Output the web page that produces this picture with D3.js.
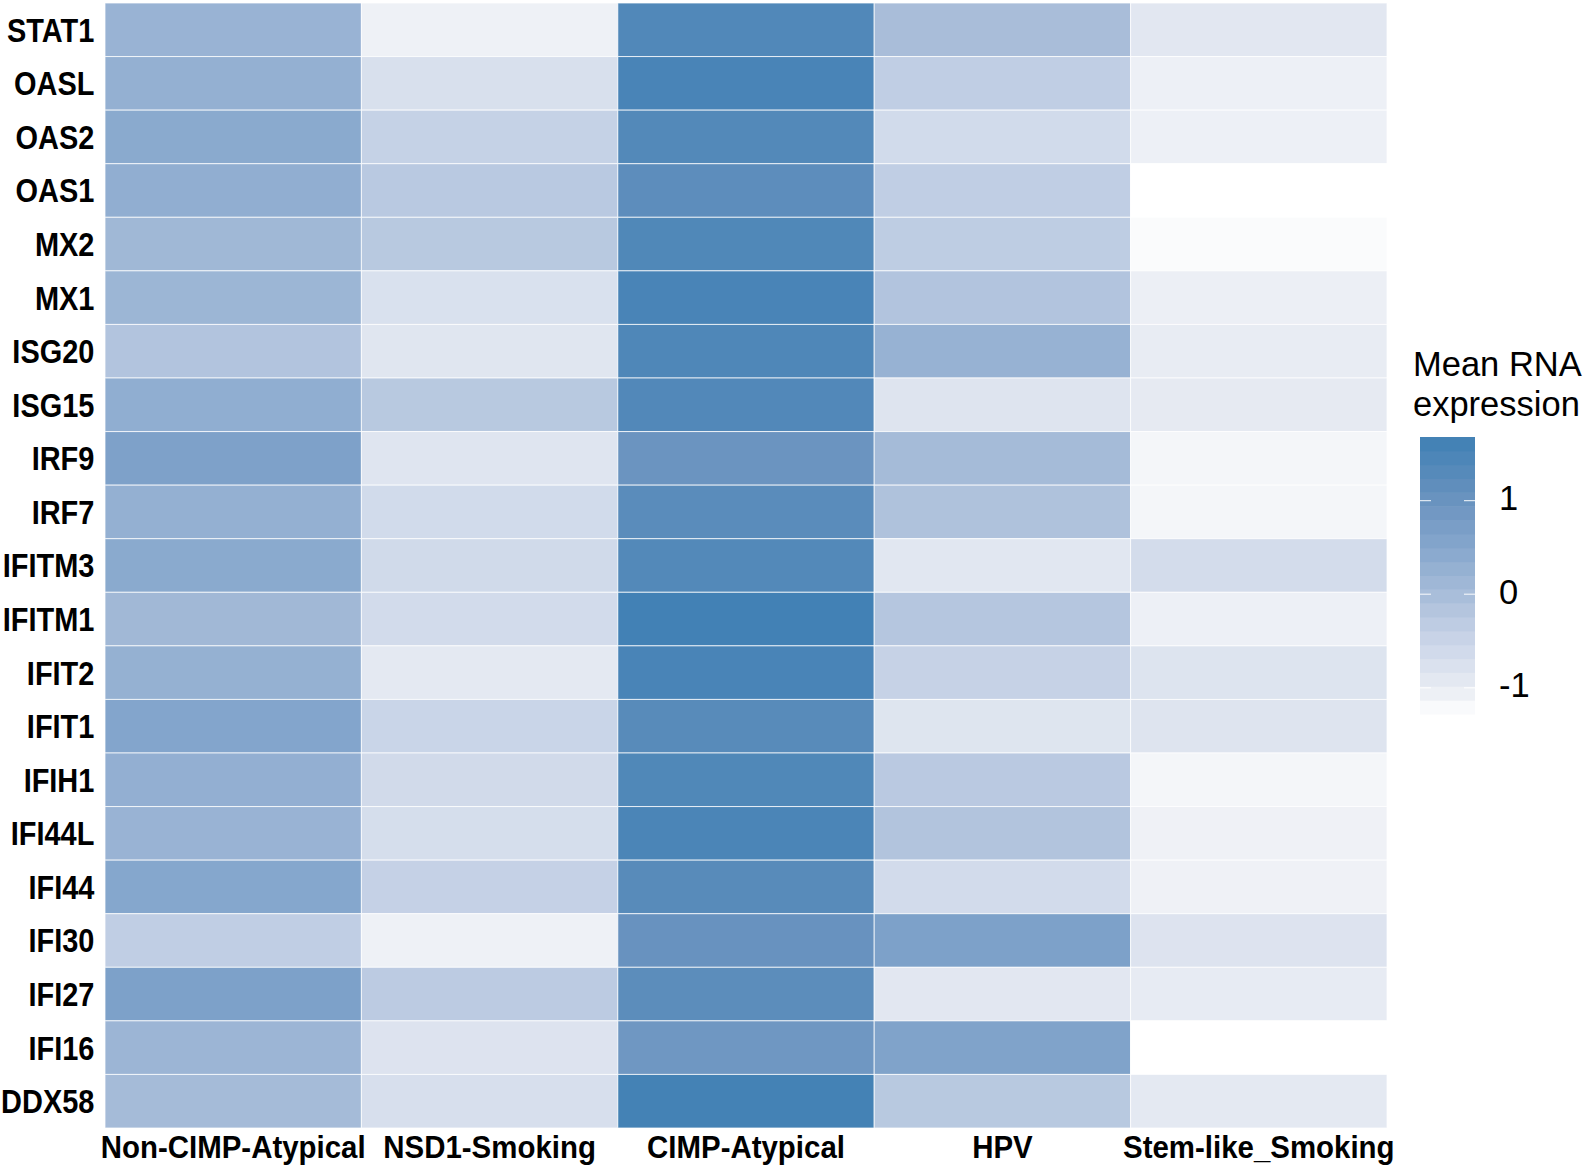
<!DOCTYPE html>
<html>
<head>
<meta charset="utf-8">
<script src="https://cdn.jsdelivr.net/npm/d3@7"></script>
<style>
  html, body { margin: 0; padding: 0; background: #ffffff; }
  svg { display: block; }
  text { font-family: "Liberation Sans", Arial, Helvetica, sans-serif; }
</style>
</head>
<body>
<svg id="chart" width="1585" height="1165"></svg>
<script>
// ---- data ----
const genes = ["STAT1","OASL","OAS2","OAS1","MX2","MX1","ISG20","ISG15","IRF9","IRF7",
  "IFITM3","IFITM1","IFIT2","IFIT1","IFIH1","IFI44L","IFI44","IFI30","IFI27","IFI16","DDX58"];
const groups = ["Non-CIMP-Atypical","NSD1-Smoking","CIMP-Atypical","HPV","Stem-like_Smoking"];

const nonCimpAtypical = [0.22,0.30,0.44,0.34,0.12,0.17,-0.15,0.35,0.64,0.29,
  0.44,0.11,0.28,0.55,0.31,0.22,0.51,-0.36,0.66,0.18,0.05];
const nsd1Smoking = [-1.07,-0.74,-0.43,-0.25,-0.24,-0.75,-0.86,-0.24,-0.85,-0.62,
  -0.60,-0.63,-0.94,-0.49,-0.61,-0.69,-0.42,-1.07,-0.29,-0.81,-0.71];
const cimpAtypical = [1.39,1.52,1.37,1.20,1.41,1.52,1.43,1.38,0.98,1.26,
  1.37,1.63,1.52,1.29,1.41,1.49,1.29,1.03,1.22,0.91,1.60];
const hpv = [-0.01,-0.36,-0.62,-0.36,-0.33,-0.15,0.25,-0.83,0.05,-0.11,
  -0.89,-0.19,-0.44,-0.84,-0.26,-0.14,-0.63,0.66,-0.90,0.61,-0.24];
const stemLikeSmoking = [-0.90,-1.06,-1.06,-1.28,-1.22,-1.05,-1.00,-0.96,-1.15,-1.15,
  -0.65,-1.06,-0.82,-0.83,-1.14,-1.08,-1.08,-0.81,-0.98,-1.28,-0.94];

const legendTicks = [-1, 0, 1];
const legendTitle = ["Mean RNA", "expression"];

const seriesByGroup = [nonCimpAtypical, nsd1Smoking, cimpAtypical, hpv, stemLikeSmoking];

// ---- layout ----
const svg = d3.select("#chart");
const plot = {left: 105, right: 1387, top: 3, bottom: 1128};

const x = d3.scaleBand().domain(groups).range([plot.left, plot.right]).padding(0);
const y = d3.scaleBand().domain(genes).range([plot.top, plot.bottom]).padding(0);

const vMin = -1.28, vMax = 1.68;
const color = d3.scaleLinear()
  .domain([vMin, -1.0, -0.5, 0, 0.5, 1.0, vMax])
  .range(["#ffffff", "#e8ecf3", "#cad5e8", "#a8bdd9", "#86a7cd", "#6a93bf", "#3f80b4"])
  .interpolate(d3.interpolateRgb)
  .clamp(true);

const cells = [];
groups.forEach((g, gi) => {
  genes.forEach((gene, ri) => {
    cells.push({group: g, gene: gene, value: seriesByGroup[gi][ri]});
  });
});

svg.append("g").selectAll("rect").data(cells).join("rect")
  .attr("x", d => x(d.group))
  .attr("y", d => y(d.gene))
  .attr("width", x.bandwidth())
  .attr("height", y.bandwidth())
  .attr("fill", d => color(d.value))
  .attr("stroke", "rgba(255,255,255,0.75)")
  .attr("stroke-width", 1);

// row labels
const yAxis = d3.axisLeft(y).tickSize(0).tickPadding(12);
const yg = svg.append("g").attr("transform", `translate(${plot.left},1.5)`).call(yAxis);
yg.select(".domain").remove();
yg.selectAll("text")
  .attr("font-size", 32.5).attr("font-weight", "bold").attr("fill", "#000")
  .attr("font-family", "'Liberation Sans', Arial, sans-serif")
  .attr("transform", "scale(0.89,1)");

// column labels
const xAxis = d3.axisBottom(x).tickSize(0).tickPadding(8);
const xg = svg.append("g").attr("transform", `translate(0,${plot.bottom})`).call(xAxis);
xg.select(".domain").remove();
xg.selectAll("text")
  .attr("font-size", 31).attr("font-weight", "bold").attr("fill", "#000")
  .attr("font-family", "'Liberation Sans', Arial, sans-serif")
  .attr("transform", "scale(0.95,1)");

// ---- legend ----
const lg = {x: 1420, w: 55, top: 437, bottom: 714};
const ly = d3.scaleLinear().domain([vMin, vMax]).range([lg.bottom, lg.top]);
const nbin = 20;
const bins = d3.range(nbin).map(i => {
  const v0 = vMin + (vMax - vMin) * i / nbin;
  const v1 = vMin + (vMax - vMin) * (i + 1) / nbin;
  return {v0, v1, mid: (v0 + v1) / 2};
});
const legend = svg.append("g");
legend.selectAll("rect").data(bins).join("rect")
  .attr("x", lg.x)
  .attr("y", d => ly(d.v1))
  .attr("width", lg.w)
  .attr("height", d => ly(d.v0) - ly(d.v1) + 0.5)
  .attr("fill", d => color(d.mid));

legend.selectAll("line.tl").data(legendTicks).join("line")
  .attr("class", "tl")
  .attr("x1", lg.x).attr("x2", lg.x + 11)
  .attr("y1", d => ly(d)).attr("y2", d => ly(d))
  .attr("stroke", "rgba(255,255,255,0.8)").attr("stroke-width", 1.2);
legend.selectAll("line.tr").data(legendTicks).join("line")
  .attr("class", "tr")
  .attr("x1", lg.x + lg.w - 11).attr("x2", lg.x + lg.w)
  .attr("y1", d => ly(d)).attr("y2", d => ly(d))
  .attr("stroke", "rgba(255,255,255,0.8)").attr("stroke-width", 1.2);

legend.selectAll("text.tick").data(legendTicks).join("text")
  .attr("class", "tick")
  .attr("x", lg.x + lg.w + 24)
  .attr("y", d => ly(d))
  .attr("dy", "0.27em")
  .attr("font-size", 34.5)
  .attr("fill", "#000")
  .text(d => d3.format("d")(d).replace("−", "-"));

legend.selectAll("text.title").data(legendTitle).join("text")
  .attr("class", "title")
  .attr("x", 1413)
  .attr("y", (d, i) => 376 + i * 40)
  .attr("font-size", 34.5)
  .attr("fill", "#000")
  .text(d => d);
</script>
</body>
</html>
